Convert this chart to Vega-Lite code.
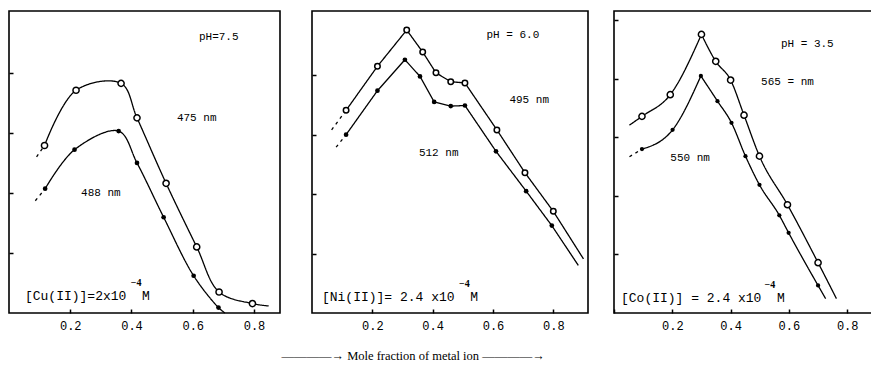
{
  "$schema": "https://vega.github.io/schema/vega-lite/v6.json",
  "padding": {"left": 7, "top": 10, "right": 0, "bottom": 0},
  "background": "white",
  "title": {"text": "————→  Mole fraction of metal ion  ————→", "orient": "bottom", "anchor": "middle", "dx": -27, "offset": 18,
            "font": "Liberation Serif", "fontSize": 12.5, "fontWeight": "normal", "color": "black"},
  "config": {
    "view": {"stroke": "black", "strokeWidth": 1.6},
    "axis": {"grid": false, "domain": false, "tickColor": "black", "tickWidth": 1.5, "labelColor": "black", "labelFont": "Liberation Mono", "labelFontSize": 12, "minExtent": 0, "labelOverlap": false},
    "axisY": {"maxExtent": 0}
  },
  "datasets": {
    "curves": [
      {"p": "Cu", "s": "open", "seg": "lead", "x": 0.09, "y": 2.6, "obs": false},
      {"p": "Cu", "s": "open", "seg": "lead", "x": 0.116, "y": 2.79, "obs": false},
      {"p": "Cu", "s": "open", "seg": "main", "x": 0.116, "y": 2.79, "obs": true},
      {"p": "Cu", "s": "open", "seg": "main", "x": 0.219, "y": 3.71, "obs": true},
      {"p": "Cu", "s": "open", "seg": "main", "x": 0.366, "y": 3.825, "obs": true},
      {"p": "Cu", "s": "open", "seg": "main", "x": 0.418, "y": 3.25, "obs": true},
      {"p": "Cu", "s": "open", "seg": "main", "x": 0.513, "y": 2.16, "obs": true},
      {"p": "Cu", "s": "open", "seg": "main", "x": 0.613, "y": 1.1, "obs": true},
      {"p": "Cu", "s": "open", "seg": "main", "x": 0.686, "y": 0.35, "obs": true},
      {"p": "Cu", "s": "open", "seg": "main", "x": 0.795, "y": 0.157, "obs": true},
      {"p": "Cu", "s": "open", "seg": "main", "x": 0.848, "y": 0.117, "obs": false},
      {"p": "Cu", "s": "filled", "seg": "lead", "x": 0.086, "y": 1.87, "obs": false},
      {"p": "Cu", "s": "filled", "seg": "lead", "x": 0.118, "y": 2.07, "obs": false},
      {"p": "Cu", "s": "filled", "seg": "main", "x": 0.118, "y": 2.07, "obs": true},
      {"p": "Cu", "s": "filled", "seg": "main", "x": 0.214, "y": 2.72, "obs": true},
      {"p": "Cu", "s": "filled", "seg": "main", "x": 0.358, "y": 3.03, "obs": true},
      {"p": "Cu", "s": "filled", "seg": "main", "x": 0.418, "y": 2.5, "obs": true},
      {"p": "Cu", "s": "filled", "seg": "main", "x": 0.505, "y": 1.595, "obs": true},
      {"p": "Cu", "s": "filled", "seg": "main", "x": 0.603, "y": 0.62, "obs": true},
      {"p": "Cu", "s": "filled", "seg": "main", "x": 0.684, "y": 0.09, "obs": true},
      {"p": "Cu", "s": "filled", "seg": "main", "x": 0.705, "y": 0.0, "obs": false},

      {"p": "Ni", "s": "open", "seg": "lead", "x": 0.065, "y": 3.08, "obs": false},
      {"p": "Ni", "s": "open", "seg": "lead", "x": 0.113, "y": 3.41, "obs": false},
      {"p": "Ni", "s": "open", "seg": "main", "x": 0.113, "y": 3.41, "obs": true},
      {"p": "Ni", "s": "open", "seg": "main", "x": 0.217, "y": 4.15, "obs": true},
      {"p": "Ni", "s": "open", "seg": "main", "x": 0.314, "y": 4.76, "obs": true},
      {"p": "Ni", "s": "open", "seg": "main", "x": 0.367, "y": 4.39, "obs": true},
      {"p": "Ni", "s": "open", "seg": "main", "x": 0.411, "y": 4.04, "obs": true},
      {"p": "Ni", "s": "open", "seg": "main", "x": 0.46, "y": 3.89, "obs": true},
      {"p": "Ni", "s": "open", "seg": "main", "x": 0.507, "y": 3.87, "obs": true},
      {"p": "Ni", "s": "open", "seg": "main", "x": 0.613, "y": 3.08, "obs": true},
      {"p": "Ni", "s": "open", "seg": "main", "x": 0.706, "y": 2.36, "obs": true},
      {"p": "Ni", "s": "open", "seg": "main", "x": 0.8, "y": 1.71, "obs": true},
      {"p": "Ni", "s": "open", "seg": "main", "x": 0.9, "y": 0.91, "obs": false},
      {"p": "Ni", "s": "filled", "seg": "lead", "x": 0.08, "y": 2.79, "obs": false},
      {"p": "Ni", "s": "filled", "seg": "lead", "x": 0.113, "y": 3.0, "obs": false},
      {"p": "Ni", "s": "filled", "seg": "main", "x": 0.113, "y": 3.0, "obs": true},
      {"p": "Ni", "s": "filled", "seg": "main", "x": 0.217, "y": 3.74, "obs": true},
      {"p": "Ni", "s": "filled", "seg": "main", "x": 0.308, "y": 4.26, "obs": true},
      {"p": "Ni", "s": "filled", "seg": "main", "x": 0.358, "y": 3.98, "obs": true},
      {"p": "Ni", "s": "filled", "seg": "main", "x": 0.405, "y": 3.55, "obs": true},
      {"p": "Ni", "s": "filled", "seg": "main", "x": 0.46, "y": 3.48, "obs": true},
      {"p": "Ni", "s": "filled", "seg": "main", "x": 0.507, "y": 3.49, "obs": true},
      {"p": "Ni", "s": "filled", "seg": "main", "x": 0.61, "y": 2.72, "obs": true},
      {"p": "Ni", "s": "filled", "seg": "main", "x": 0.71, "y": 2.05, "obs": true},
      {"p": "Ni", "s": "filled", "seg": "main", "x": 0.795, "y": 1.47, "obs": true},
      {"p": "Ni", "s": "filled", "seg": "main", "x": 0.883, "y": 0.8, "obs": false},

      {"p": "Co", "s": "open", "seg": "rise", "x": 0.053, "y": 3.21, "obs": false},
      {"p": "Co", "s": "open", "seg": "rise", "x": 0.096, "y": 3.36, "obs": true},
      {"p": "Co", "s": "open", "seg": "rise", "x": 0.193, "y": 3.73, "obs": true},
      {"p": "Co", "s": "open", "seg": "rise", "x": 0.3, "y": 4.76, "obs": true},
      {"p": "Co", "s": "open", "seg": "fall", "x": 0.3, "y": 4.76, "obs": false},
      {"p": "Co", "s": "open", "seg": "fall", "x": 0.349, "y": 4.3, "obs": true},
      {"p": "Co", "s": "open", "seg": "fall", "x": 0.4, "y": 3.98, "obs": true},
      {"p": "Co", "s": "open", "seg": "fall", "x": 0.446, "y": 3.38, "obs": true},
      {"p": "Co", "s": "open", "seg": "fall", "x": 0.499, "y": 2.68, "obs": true},
      {"p": "Co", "s": "open", "seg": "fall", "x": 0.595, "y": 1.85, "obs": true},
      {"p": "Co", "s": "open", "seg": "fall", "x": 0.7, "y": 0.86, "obs": true},
      {"p": "Co", "s": "open", "seg": "fall", "x": 0.763, "y": 0.245, "obs": false},
      {"p": "Co", "s": "filled", "seg": "lead", "x": 0.053, "y": 2.67, "obs": false},
      {"p": "Co", "s": "filled", "seg": "lead", "x": 0.096, "y": 2.8, "obs": false},
      {"p": "Co", "s": "filled", "seg": "rise", "x": 0.096, "y": 2.8, "obs": true},
      {"p": "Co", "s": "filled", "seg": "rise", "x": 0.201, "y": 3.13, "obs": true},
      {"p": "Co", "s": "filled", "seg": "rise", "x": 0.298, "y": 4.05, "obs": true},
      {"p": "Co", "s": "filled", "seg": "fall", "x": 0.298, "y": 4.05, "obs": false},
      {"p": "Co", "s": "filled", "seg": "fall", "x": 0.355, "y": 3.62, "obs": true},
      {"p": "Co", "s": "filled", "seg": "fall", "x": 0.403, "y": 3.25, "obs": true},
      {"p": "Co", "s": "filled", "seg": "fall", "x": 0.451, "y": 2.68, "obs": true},
      {"p": "Co", "s": "filled", "seg": "fall", "x": 0.499, "y": 2.19, "obs": true},
      {"p": "Co", "s": "filled", "seg": "fall", "x": 0.567, "y": 1.67, "obs": true},
      {"p": "Co", "s": "filled", "seg": "fall", "x": 0.599, "y": 1.37, "obs": true},
      {"p": "Co", "s": "filled", "seg": "fall", "x": 0.7, "y": 0.47, "obs": true},
      {"p": "Co", "s": "filled", "seg": "fall", "x": 0.726, "y": 0.245, "obs": false}
    ],
    "notes": [
      {"p": "Cu", "kind": "label", "x": 0.685, "y": 4.6, "text": "pH=7.5"},
      {"p": "Cu", "kind": "label", "x": 0.613, "y": 3.25, "text": "475 nm"},
      {"p": "Cu", "kind": "label", "x": 0.3, "y": 2.0, "text": "488 nm"},
      {"p": "Cu", "kind": "conc", "x": 0.052, "y": 0.283, "text": "[Cu(II)]=2x10\u00a0\u00a0M"},
      {"p": "Cu", "kind": "sup", "x": 0.415, "y": 0.495, "text": "−4"},
      {"p": "Ni", "kind": "label", "x": 0.666, "y": 4.67, "text": "pH = 6.0"},
      {"p": "Ni", "kind": "label", "x": 0.72, "y": 3.59, "text": "495 nm"},
      {"p": "Ni", "kind": "label", "x": 0.42, "y": 2.69, "text": "512 nm"},
      {"p": "Ni", "kind": "conc", "x": 0.033, "y": 0.27, "text": "[Ni(II)]= 2.4 x10\u00a0\u00a0M"},
      {"p": "Ni", "kind": "sup", "x": 0.505, "y": 0.485, "text": "−4"},
      {"p": "Co", "kind": "label", "x": 0.663, "y": 4.6, "text": "pH = 3.5"},
      {"p": "Co", "kind": "label", "x": 0.595, "y": 3.95, "text": "565 = nm"},
      {"p": "Co", "kind": "label", "x": 0.261, "y": 2.64, "text": "550 nm"},
      {"p": "Co", "kind": "conc", "x": 0.024, "y": 0.26, "text": "[Co(II)] = 2.4 x10\u00a0\u00a0M"},
      {"p": "Co", "kind": "sup", "x": 0.535, "y": 0.48, "text": "−4"}
    ]
  },
  "spacing": 29,
  "hconcat": [
    {
      "width": 271, "height": 302,
      "layer": [
        {"data": {"name": "curves"}, "transform": [{"filter": "datum.p === 'Cu'"}],
         "mark": {"type": "line", "color": "black", "strokeWidth": 1.3, "interpolate": "catmull-rom"},
         "encoding": {
           "x": {"field": "x", "type": "quantitative", "scale": {"domain": [0, 0.885], "nice": false},
                 "axis": {"values": [0.2, 0.4, 0.6, 0.8], "format": ".1f", "tickSize": -4, "labelPadding": 11, "title": null}},
           "y": {"field": "y", "type": "quantitative", "scale": {"domain": [0, 5.03], "nice": false},
                 "axis": {"values": [1, 2, 3, 4], "labels": false, "tickSize": -4, "title": null}},
           "detail": {"field": "s"},
           "strokeDash": {"field": "seg", "type": "nominal", "legend": null,
                          "scale": {"domain": ["lead", "main", "rise", "fall"], "range": [[3, 4], [1, 0], [1, 0], [1, 0]]}}
         }},
        {"data": {"name": "curves"}, "transform": [{"filter": "datum.p === 'Cu' && datum.obs && datum.s === 'open'"}],
         "mark": {"type": "point", "shape": "circle", "filled": true, "fill": "white", "stroke": "black", "strokeWidth": 1.5, "size": 38, "opacity": 1},
         "encoding": {"x": {"field": "x", "type": "quantitative"}, "y": {"field": "y", "type": "quantitative"}}},
        {"data": {"name": "curves"}, "transform": [{"filter": "datum.p === 'Cu' && datum.obs && datum.s === 'filled'"}],
         "mark": {"type": "point", "shape": "circle", "filled": true, "color": "black", "size": 22, "opacity": 1},
         "encoding": {"x": {"field": "x", "type": "quantitative"}, "y": {"field": "y", "type": "quantitative"}}},
        {"data": {"name": "notes"}, "transform": [{"filter": "datum.p === 'Cu' && datum.kind === 'label'"}],
         "mark": {"type": "text", "font": "Liberation Mono", "fontSize": 11, "color": "black", "align": "center", "baseline": "middle"},
         "encoding": {"x": {"field": "x", "type": "quantitative"}, "y": {"field": "y", "type": "quantitative"}, "text": {"field": "text"}}},
        {"data": {"name": "notes"}, "transform": [{"filter": "datum.p === 'Cu' && datum.kind === 'conc'"}],
         "mark": {"type": "text", "font": "Liberation Mono", "fontSize": 13, "color": "black", "align": "left", "baseline": "middle"},
         "encoding": {"x": {"field": "x", "type": "quantitative"}, "y": {"field": "y", "type": "quantitative"}, "text": {"field": "text"}}},
        {"data": {"name": "notes"}, "transform": [{"filter": "datum.p === 'Cu' && datum.kind === 'sup'"}],
         "mark": {"type": "text", "font": "Liberation Serif", "fontSize": 10, "fontWeight": "bold", "color": "black", "align": "center", "baseline": "middle"},
         "encoding": {"x": {"field": "x", "type": "quantitative"}, "y": {"field": "y", "type": "quantitative"}, "text": {"field": "text"}}}
      ]
    },
    {
      "spacing": 23,
      "hconcat": [
        {
          "width": 276, "height": 302,
          "layer": [
            {"data": {"name": "curves"}, "transform": [{"filter": "datum.p === 'Ni'"}],
             "mark": {"type": "line", "color": "black", "strokeWidth": 1.3, "interpolate": "linear"},
             "encoding": {
               "x": {"field": "x", "type": "quantitative", "scale": {"domain": [0, 0.915], "nice": false},
                     "axis": {"values": [0.2, 0.4, 0.6, 0.8], "format": ".1f", "tickSize": -4, "labelPadding": 11, "title": null}},
               "y": {"field": "y", "type": "quantitative", "scale": {"domain": [0, 5.08], "nice": false},
                     "axis": {"values": [1, 2, 3, 4], "labels": false, "tickSize": -4, "title": null}},
               "detail": {"field": "s"},
               "strokeDash": {"field": "seg", "type": "nominal", "legend": null,
                              "scale": {"domain": ["lead", "main", "rise", "fall"], "range": [[3, 4], [1, 0], [1, 0], [1, 0]]}}
             }},
            {"data": {"name": "curves"}, "transform": [{"filter": "datum.p === 'Ni' && datum.obs && datum.s === 'open'"}],
             "mark": {"type": "point", "shape": "circle", "filled": true, "fill": "white", "stroke": "black", "strokeWidth": 1.5, "size": 30, "opacity": 1},
             "encoding": {"x": {"field": "x", "type": "quantitative"}, "y": {"field": "y", "type": "quantitative"}}},
            {"data": {"name": "curves"}, "transform": [{"filter": "datum.p === 'Ni' && datum.obs && datum.s === 'filled'"}],
             "mark": {"type": "point", "shape": "circle", "filled": true, "color": "black", "size": 22, "opacity": 1},
             "encoding": {"x": {"field": "x", "type": "quantitative"}, "y": {"field": "y", "type": "quantitative"}}},
            {"data": {"name": "notes"}, "transform": [{"filter": "datum.p === 'Ni' && datum.kind === 'label'"}],
             "mark": {"type": "text", "font": "Liberation Mono", "fontSize": 11, "color": "black", "align": "center", "baseline": "middle"},
             "encoding": {"x": {"field": "x", "type": "quantitative"}, "y": {"field": "y", "type": "quantitative"}, "text": {"field": "text"}}},
            {"data": {"name": "notes"}, "transform": [{"filter": "datum.p === 'Ni' && datum.kind === 'conc'"}],
             "mark": {"type": "text", "font": "Liberation Mono", "fontSize": 13, "color": "black", "align": "left", "baseline": "middle"},
             "encoding": {"x": {"field": "x", "type": "quantitative"}, "y": {"field": "y", "type": "quantitative"}, "text": {"field": "text"}}},
            {"data": {"name": "notes"}, "transform": [{"filter": "datum.p === 'Ni' && datum.kind === 'sup'"}],
             "mark": {"type": "text", "font": "Liberation Serif", "fontSize": 10, "fontWeight": "bold", "color": "black", "align": "center", "baseline": "middle"},
             "encoding": {"x": {"field": "x", "type": "quantitative"}, "y": {"field": "y", "type": "quantitative"}, "text": {"field": "text"}}}
          ]
        },
        {
          "width": 258, "height": 302,
          "layer": [
            {"data": {"name": "curves"}, "transform": [{"filter": "datum.p === 'Co'"}],
             "mark": {"type": "line", "color": "black", "strokeWidth": 1.3, "interpolate": "monotone"},
             "encoding": {
               "x": {"field": "x", "type": "quantitative", "scale": {"domain": [0, 0.885], "nice": false},
                     "axis": {"values": [0, 0.1, 0.2, 0.3, 0.4, 0.5, 0.6, 0.7, 0.8], "format": ".1f", "tickSize": -4, "labelPadding": 11, "title": null,
                              "labelOverlap": "parity",
                              "labelExpr": "(datum.value < 0.05 || round(datum.value * 10) % 2 === 1) ? '' : datum.label"}},
               "y": {"field": "y", "type": "quantitative", "scale": {"domain": [0, 5.16], "nice": false},
                     "axis": {"values": [1, 2, 3, 4, 5], "labels": false, "tickSize": -4, "title": null}},
               "detail": {"field": "s"},
               "strokeDash": {"field": "seg", "type": "nominal", "legend": null,
                              "scale": {"domain": ["lead", "main", "rise", "fall"], "range": [[3, 4], [1, 0], [1, 0], [1, 0]]}}
             }},
            {"data": {"name": "curves"}, "transform": [{"filter": "datum.p === 'Co' && datum.obs && datum.s === 'open'"}],
             "mark": {"type": "point", "shape": "circle", "filled": true, "fill": "white", "stroke": "black", "strokeWidth": 1.5, "size": 38, "opacity": 1},
             "encoding": {"x": {"field": "x", "type": "quantitative"}, "y": {"field": "y", "type": "quantitative"}}},
            {"data": {"name": "curves"}, "transform": [{"filter": "datum.p === 'Co' && datum.obs && datum.s === 'filled'"}],
             "mark": {"type": "point", "shape": "circle", "filled": true, "color": "black", "size": 18, "opacity": 1},
             "encoding": {"x": {"field": "x", "type": "quantitative"}, "y": {"field": "y", "type": "quantitative"}}},
            {"data": {"name": "notes"}, "transform": [{"filter": "datum.p === 'Co' && datum.kind === 'label'"}],
             "mark": {"type": "text", "font": "Liberation Mono", "fontSize": 11, "color": "black", "align": "center", "baseline": "middle"},
             "encoding": {"x": {"field": "x", "type": "quantitative"}, "y": {"field": "y", "type": "quantitative"}, "text": {"field": "text"}}},
            {"data": {"name": "notes"}, "transform": [{"filter": "datum.p === 'Co' && datum.kind === 'conc'"}],
             "mark": {"type": "text", "font": "Liberation Mono", "fontSize": 13, "color": "black", "align": "left", "baseline": "middle"},
             "encoding": {"x": {"field": "x", "type": "quantitative"}, "y": {"field": "y", "type": "quantitative"}, "text": {"field": "text"}}},
            {"data": {"name": "notes"}, "transform": [{"filter": "datum.p === 'Co' && datum.kind === 'sup'"}],
             "mark": {"type": "text", "font": "Liberation Serif", "fontSize": 10, "fontWeight": "bold", "color": "black", "align": "center", "baseline": "middle"},
             "encoding": {"x": {"field": "x", "type": "quantitative"}, "y": {"field": "y", "type": "quantitative"}, "text": {"field": "text"}}}
          ]
        }
      ]
    }
  ]
}
